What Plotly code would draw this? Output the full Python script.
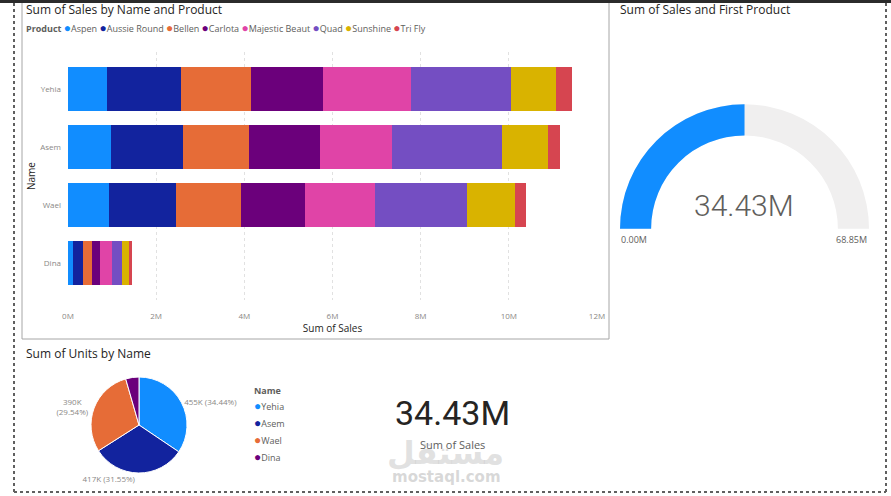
import plotly.graph_objects as go

# ---------------- data ----------------
names = ["Yehia", "Asem", "Wael", "Dina"]
products = ["Aspen", "Aussie Round", "Bellen", "Carlota", "Majestic Beaut", "Quad", "Sunshine", "Tri Fly"]
product_colors = ["#118DFF", "#12239E", "#E66C37", "#6B007B", "#E044A7", "#744EC2", "#D9B300", "#D64550"]

# sales in millions, per name (rows follow `names`), per product (columns follow `products`)
sales_yehia = [0.88, 1.68, 1.60, 1.62, 2.01, 2.25, 1.04, 0.35]
sales_asem = [0.97, 1.64, 1.49, 1.61, 1.64, 2.50, 1.04, 0.27]
sales_wael = [0.92, 1.53, 1.47, 1.46, 1.58, 2.09, 1.10, 0.24]
sales_dina = [0.11, 0.23, 0.20, 0.18, 0.27, 0.24, 0.16, 0.06]
sales_rows = [sales_yehia, sales_asem, sales_wael, sales_dina]

x_tick_vals = [0, 2, 4, 6, 8, 10, 12]
x_tick_text = ["0M", "2M", "4M", "6M", "8M", "10M", "12M"]

units_by_name = [455020, 416840, 390280, 59060]
name_colors = ["#118DFF", "#12239E", "#E66C37", "#6B007B"]

gauge_min = 0.0
gauge_max = 68.85

total_sales = sum(sum(r) for r in sales_rows)

FONT = "Segoe UI, Open Sans, sans-serif"
TXT = "#252423"
GRAY = "#605E5C"
LIGHT = "#8a8886"

fig = go.Figure()

# ---------------- stacked bar ----------------
for j, (p, c) in enumerate(zip(products, product_colors)):
    fig.add_trace(go.Bar(
        y=names, x=[row[j] for row in sales_rows], name=p, orientation="h",
        marker=dict(color=c, line=dict(width=0)), showlegend=False,
        xaxis="x", yaxis="y",
    ))

W, H = 891, 496
def px(x):
    return x / W
def py(y):
    return 1 - y / H

fig.update_layout(
    barmode="stack", bargap=0.24,
    xaxis=dict(
        domain=[px(68), px(597)], range=[0, 12], anchor="y", automargin=False,
        tickvals=x_tick_vals, ticktext=x_tick_text,
        tickfont=dict(size=8, color=LIGHT, family=FONT),
        showgrid=True, gridcolor="#E1E1E1", griddash="dot", gridwidth=1,
        zeroline=False, showline=False, ticks="", ticklabelstandoff=10,
        title=dict(text="Sum of Sales", font=dict(size=10, color=TXT, family=FONT), standoff=4),
    ),
    yaxis=dict(
        domain=[py(300), py(52)], range=[3.638, -0.638], anchor="x", automargin=False,
        type="category", categoryorder="array", categoryarray=names,
        tickfont=dict(size=8, color=LIGHT, family=FONT),
        showgrid=False, zeroline=False, showline=False, ticks="", ticklabelstandoff=6,
        title=dict(text="Name", font=dict(size=10, color=TXT, family=FONT), standoff=2),
    ),
)

# ---------------- gauge ----------------
fig.add_trace(go.Indicator(
    mode="gauge", value=total_sales,
    gauge=dict(
        shape="angular",
        axis=dict(range=[gauge_min, gauge_max], visible=False),
        bar=dict(color="#118DFF", thickness=1),
        bgcolor="#F0EFEF", borderwidth=0,
    ),
    domain=dict(x=[px(620), px(869)], y=[py(229), py(104)]),
))

# ---------------- pie ----------------
unit_total = sum(units_by_name)
pie_text = []
cum = 0
for v in units_by_name:
    share = v / unit_total
    mid = (cum + share / 2) * 360
    cum += share
    if share < 0.05:
        pie_text.append("")
        continue
    sep = "<br>" if 200 < mid < 340 else " "
    pie_text.append(f"{v/1000:.0f}K{sep}({share*100:.2f}%)")

fig.add_trace(go.Pie(
    labels=names, values=units_by_name, text=pie_text, textinfo="text",
    textposition="outside", sort=False, direction="clockwise", rotation=0,
    marker=dict(colors=name_colors, line=dict(color="white", width=1)),
    textfont=dict(size=8, color=LIGHT, family=FONT),
    showlegend=False, hoverinfo="label+value+percent", automargin=False,
    domain=dict(x=[px(91), px(187)], y=[py(473), py(377)]),
))

annotations = []
def add_text(x, y, text, size, color=TXT, family=FONT, xanchor="left", yanchor="middle", weight="normal"):
    annotations.append(dict(x=px(x), y=py(y), xref="paper", yref="paper", text=text, showarrow=False,
                            font=dict(size=size, color=color, family=family, weight=weight),
                            xanchor=xanchor, yanchor=yanchor))

# titles
add_text(24, 9, "Sum of Sales by Name and Product", 12)
add_text(618, 9, "Sum of Sales and First Product", 12)
add_text(24, 353, "Sum of Units by Name", 12)

# product legend
dot = "<span style='color:{c};font-size:12px'>●</span>"
legend_parts = ["<b>Product</b>"] + [dot.format(c=c) + p for p, c in zip(products, product_colors)]
add_text(24, 28, " ".join(legend_parts), 9, color=GRAY)

# pie legend
add_text(252, 390, "<b>Name</b>", 9, color=GRAY)
for i, (n, c) in enumerate(zip(names, name_colors)):
    add_text(252, 405 + i * 17.3, dot.format(c=c) + n, 9, color=GRAY)

# gauge value and min / max labels
add_text(744, 205, f"{total_sales:.2f}M", 30, color=GRAY, family="Roboto", xanchor="center", weight=300)
add_text(619, 239, f"{gauge_min:.2f}M", 9, color=GRAY)
add_text(869, 239, f"{gauge_max:.2f}M", 9, color=GRAY, xanchor="right")

# card
add_text(452, 413, f"{total_sales:.2f}M", 34, color=TXT, family="Roboto", xanchor="center")
add_text(452, 444, "Sum of Sales", 11, color=GRAY, xanchor="center")

# watermark
add_text(445, 453, "<b>مستقل</b>", 32, color="rgba(200,200,200,0.55)", family="DejaVu Sans", xanchor="center")
add_text(446, 477, "<b>mostaql.com</b>", 15, color="rgba(190,190,190,0.6)", family="DejaVu Sans", xanchor="center")

shapes = [
    dict(type="rect", xref="paper", yref="paper", x0=px(22), x1=px(609), y0=py(339), y1=py(2),
         line=dict(color="#A6A6A6", width=1), layer="below"),
    dict(type="rect", xref="paper", yref="paper", x0=0, x1=1, y0=py(3), y1=1,
         line=dict(width=0), fillcolor="#2B2B2B"),
    dict(type="line", xref="paper", yref="paper", x0=px(14), x1=px(14), y0=py(492), y1=py(3),
         line=dict(color="#606060", width=2, dash="dot")),
    dict(type="line", xref="paper", yref="paper", x0=px(886), x1=px(886), y0=py(492), y1=py(3),
         line=dict(color="#606060", width=2, dash="dot")),
    dict(type="line", xref="paper", yref="paper", x0=px(14), x1=px(886), y0=py(492), y1=py(492),
         line=dict(color="#606060", width=2, dash="dot")),
]

fig.update_layout(
    width=W, height=H, margin=dict(l=0, r=0, t=0, b=0, autoexpand=False),
    paper_bgcolor="white", plot_bgcolor="white",
    font=dict(family=FONT, color=TXT),
    annotations=annotations, shapes=shapes, showlegend=False,
)

fig.write_html("out.html")
